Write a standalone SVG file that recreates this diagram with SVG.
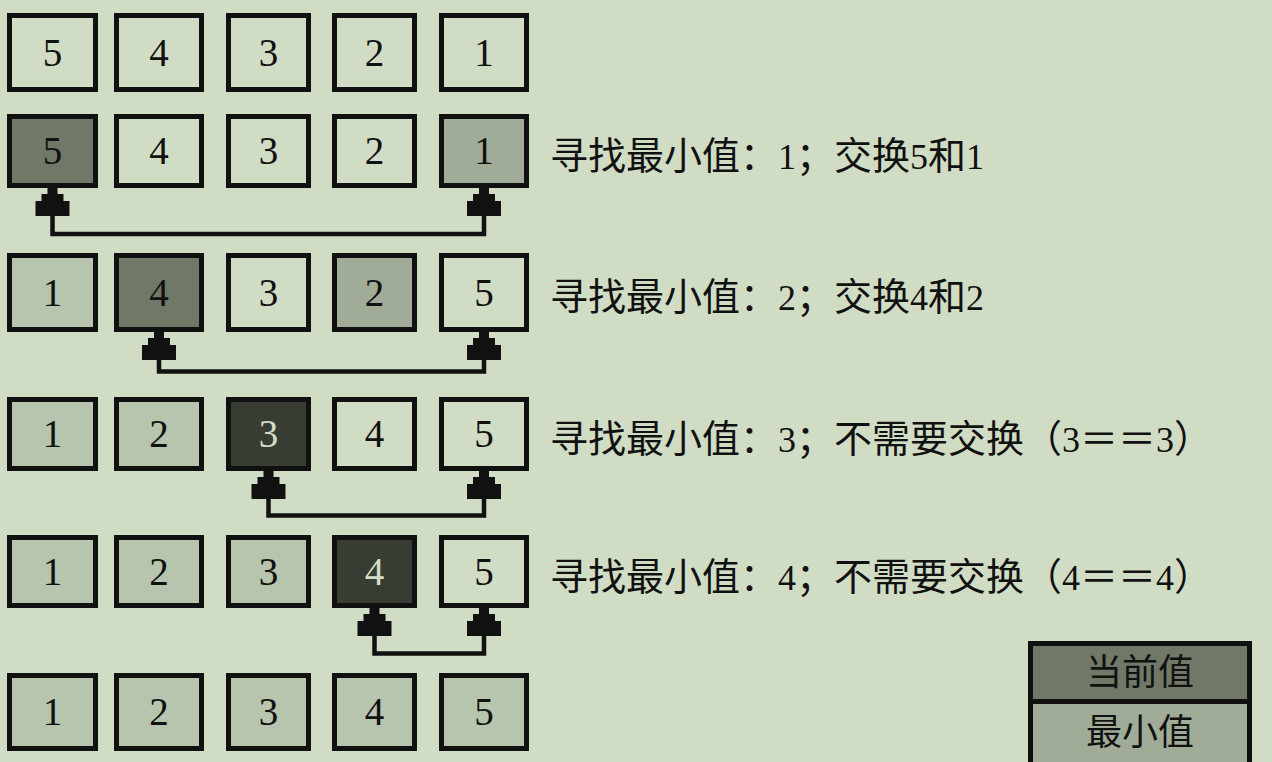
<svg xmlns="http://www.w3.org/2000/svg" width="1272" height="762" viewBox="0 0 1272 762">
  <defs>
    <style>
      .bx { stroke: #111; stroke-width: 5; }
      .n { fill: #D0DCC3; }
      .s { fill: #B7C4AE; }
      .c { fill: #707868; }
      .m { fill: #A0AC98; }
      .k { fill: #383D34; }
      .num { font-family: "Liberation Serif", "Times New Roman", serif; font-size: 39px; text-anchor: middle; fill: #111; }
      .lt { fill: #D0DCC3; }
      .lbl { font-family: "Liberation Serif", "Noto Sans CJK SC", serif; font-size: 38px; fill: #111; }
      .d { font-size: 36px; }
      .leg { font-family: "Noto Sans CJK SC", sans-serif; font-size: 36px; text-anchor: middle; fill: #111; }
      .con { fill: none; stroke: #111; stroke-width: 4.5; marker-start: url(#ah); marker-end: url(#ah); }
    </style>
    <marker id="ah" markerUnits="userSpaceOnUse" viewBox="-29 -18 30 36" refX="0" refY="0" markerWidth="30" markerHeight="36" orient="auto-start-reverse" overflow="visible">
      <path d="M0,-5 L0,5 L-6,5 L-6,11 L-13,11 L-13,17 L-28,17 L-28,-17 L-13,-17 L-13,-11 L-6,-11 L-6,-5 Z" fill="#111"/>
    </marker>
  </defs>
  <rect x="0" y="0" width="1272" height="762" fill="#D0DCC3"/>

  <!-- Row 1 -->
  <g id="r1c1"><rect class="bx n" x="9.5" y="15.5" width="86" height="74"/><text class="num" x="52.5" y="66">5</text></g>
  <g id="r1c2"><rect class="bx n" x="116.5" y="15.5" width="85" height="74"/><text class="num" x="159" y="66">4</text></g>
  <g id="r1c3"><rect class="bx n" x="228.5" y="15.5" width="80" height="74"/><text class="num" x="268.5" y="66">3</text></g>
  <g id="r1c4"><rect class="bx n" x="334.5" y="15.5" width="80" height="74"/><text class="num" x="374.5" y="66">2</text></g>
  <g id="r1c5"><rect class="bx n" x="441.5" y="15.5" width="85" height="74"/><text class="num" x="484" y="66">1</text></g>

  <!-- Row 2 -->
  <g id="r2c1"><rect class="bx c" x="9.5" y="116.5" width="86" height="69"/><text class="num" x="52.5" y="164">5</text></g>
  <g id="r2c2"><rect class="bx n" x="116.5" y="116.5" width="85" height="69"/><text class="num" x="159" y="164">4</text></g>
  <g id="r2c3"><rect class="bx n" x="228.5" y="116.5" width="80" height="69"/><text class="num" x="268.5" y="164">3</text></g>
  <g id="r2c4"><rect class="bx n" x="334.5" y="116.5" width="80" height="69"/><text class="num" x="374.5" y="164">2</text></g>
  <g id="r2c5"><rect class="bx m" x="441.5" y="116.5" width="85" height="69"/><text class="num" x="484" y="164">1</text></g>
  <g id="t2"><text class="lbl" x="550" y="169">寻找最小值：<tspan class="d">1</tspan>；交换<tspan class="d">5</tspan>和<tspan class="d">1</tspan></text></g>

  <!-- Row 3 -->
  <g id="r3c1"><rect class="bx s" x="9.5" y="255.5" width="86" height="74"/><text class="num" x="52.5" y="306">1</text></g>
  <g id="r3c2"><rect class="bx c" x="116.5" y="255.5" width="85" height="74"/><text class="num" x="159" y="306">4</text></g>
  <g id="r3c3"><rect class="bx n" x="228.5" y="255.5" width="80" height="74"/><text class="num" x="268.5" y="306">3</text></g>
  <g id="r3c4"><rect class="bx m" x="334.5" y="255.5" width="80" height="74"/><text class="num" x="374.5" y="306">2</text></g>
  <g id="r3c5"><rect class="bx n" x="441.5" y="255.5" width="85" height="74"/><text class="num" x="484" y="306">5</text></g>
  <g id="t3"><text class="lbl" x="550" y="310">寻找最小值：<tspan class="d">2</tspan>；交换<tspan class="d">4</tspan>和<tspan class="d">2</tspan></text></g>

  <!-- Row 4 -->
  <g id="r4c1"><rect class="bx s" x="9.5" y="399.5" width="86" height="69"/><text class="num" x="52.5" y="447">1</text></g>
  <g id="r4c2"><rect class="bx s" x="116.5" y="399.5" width="85" height="69"/><text class="num" x="159" y="447">2</text></g>
  <g id="r4c3"><rect class="bx k" x="228.5" y="399.5" width="80" height="69"/><text class="num lt" x="268.5" y="447">3</text></g>
  <g id="r4c4"><rect class="bx n" x="334.5" y="399.5" width="80" height="69"/><text class="num" x="374.5" y="447">4</text></g>
  <g id="r4c5"><rect class="bx n" x="441.5" y="399.5" width="85" height="69"/><text class="num" x="484" y="447">5</text></g>
  <g id="t4"><text class="lbl" x="550" y="452">寻找最小值：<tspan class="d">3</tspan>；不需要交换（<tspan class="d">3</tspan>＝＝<tspan class="d">3</tspan>）</text></g>

  <!-- Row 5 -->
  <g id="r5c1"><rect class="bx s" x="9.5" y="537.5" width="86" height="68"/><text class="num" x="52.5" y="585">1</text></g>
  <g id="r5c2"><rect class="bx s" x="116.5" y="537.5" width="85" height="68"/><text class="num" x="159" y="585">2</text></g>
  <g id="r5c3"><rect class="bx s" x="228.5" y="537.5" width="80" height="68"/><text class="num" x="268.5" y="585">3</text></g>
  <g id="r5c4"><rect class="bx k" x="334.5" y="537.5" width="80" height="68"/><text class="num lt" x="374.5" y="585">4</text></g>
  <g id="r5c5"><rect class="bx n" x="441.5" y="537.5" width="85" height="68"/><text class="num" x="484" y="585">5</text></g>
  <g id="t5"><text class="lbl" x="550" y="590">寻找最小值：<tspan class="d">4</tspan>；不需要交换（<tspan class="d">4</tspan>＝＝<tspan class="d">4</tspan>）</text></g>

  <!-- Row 6 -->
  <g id="r6c1"><rect class="bx s" x="9.5" y="675.5" width="86" height="73"/><text class="num" x="52.5" y="725">1</text></g>
  <g id="r6c2"><rect class="bx s" x="116.5" y="675.5" width="85" height="73"/><text class="num" x="159" y="725">2</text></g>
  <g id="r6c3"><rect class="bx s" x="228.5" y="675.5" width="80" height="73"/><text class="num" x="268.5" y="725">3</text></g>
  <g id="r6c4"><rect class="bx s" x="334.5" y="675.5" width="80" height="73"/><text class="num" x="374.5" y="725">4</text></g>
  <g id="r6c5"><rect class="bx s" x="441.5" y="675.5" width="85" height="73"/><text class="num" x="484" y="725">5</text></g>

  <!-- Connectors -->
  <g id="connectors">
    <path class="con" d="M52.5,188 V234 H484 V188"/>
    <path class="con" d="M159,332 V371.5 H484 V332"/>
    <path class="con" d="M268.5,471 V515.5 H484 V471"/>
    <path class="con" d="M374.5,608 V653.5 H484 V608"/>
  </g>

  <!-- Legend -->
  <g id="legend-current"><rect class="bx c" x="1030.5" y="643.5" width="219" height="58"/><text class="leg" x="1140" y="685">当前值</text></g>
  <g id="legend-min"><rect class="bx m" x="1030.5" y="701.5" width="219" height="70"/><text class="leg" x="1140" y="745">最小值</text></g>
</svg>
